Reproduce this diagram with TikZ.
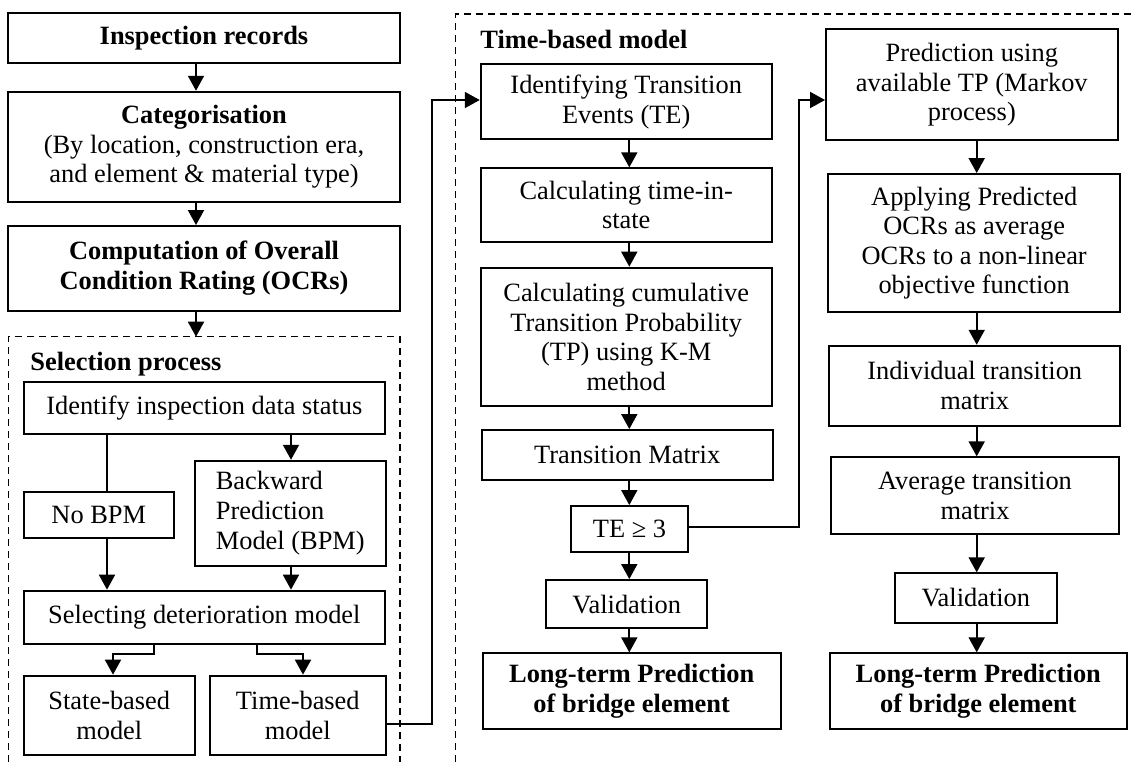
\documentclass[tikz,border=0pt]{standalone}
\usepackage{fontspec}
\setmainfont{Liberation Serif}
\usetikzlibrary{arrows.meta}
\tikzset{
  flowbox/.style={draw, line width=0.95pt, align=center, inner sep=0pt, font=\fontsize{13.2}{14.8}\selectfont},
  arr/.style={line width=0.95pt, -{Triangle[length=7.5pt,width=8pt]}},
  plain/.style={line width=0.95pt},
  dash box/.style={line width=0.65pt, dash pattern=on 3.5pt off 2.5pt},
  heading/.style={font=\fontsize{13.2}{14.8}\selectfont\bfseries, anchor=base west, inner sep=0pt}
}
\begin{document}
\begin{tikzpicture}[x=0.5pt, y=-0.5pt]
\useasboundingbox (0,0) rectangle (1135,762);
% dashed groups
\draw[dash box] (8.7,762) -- (8.7,336.7) -- (400,336.7) -- (400,762);
\draw[dash box] (455.7,762) -- (455.7,14) -- (1135,14);
\node[heading] (selhead) at (30,370.7) {Selection process};
\node[heading] (timehead) at (480,48.3) {Time-based model};
\coordinate (selTop) at (196,336.7);
% left column
\node[flowbox, minimum width=196pt, minimum height=25.2pt] (rec) at (204,37.9) {\textbf{Inspection records}};
\node[flowbox, minimum width=196pt, minimum height=55.2pt] (cat) at (204,146.9) {\textbf{Categorisation}\\(By location, construction era,\\and element \& material type)};
\node[flowbox, minimum width=196pt, minimum height=42.3pt] (ocr) at (204,268.3) {\textbf{Computation of Overall}\\\textbf{Condition Rating (OCRs)}};
\node[flowbox, minimum width=180.7pt, minimum height=26.3pt] (ids) at (204.3,408) {Identify inspection data status};
\node[flowbox, minimum width=75.2pt, minimum height=23.3pt] (nobpm) at (98.8,515) {No BPM};
\node[flowbox, minimum width=95.7pt, minimum height=52.5pt, align=left] (bpm) at (290.3,513.2) {Backward\\Prediction\\Model (BPM)};
\node[flowbox, minimum width=180.7pt, minimum height=26.7pt] (sel) at (204.3,617.3) {Selecting deterioration model};
\node[flowbox, minimum width=85.7pt, minimum height=39.7pt] (state) at (109.3,715.3) {State-based\\model};
\node[flowbox, minimum width=88.2pt, minimum height=39.7pt] (time) at (297.8,715.3) {Time-based\\model};
% middle column
\node[flowbox, minimum width=145.5pt, minimum height=37.5pt] (te) at (626.2,101.8) {Identifying Transition\\Events (TE)};
\node[flowbox, minimum width=145.5pt, minimum height=36.7pt] (tis) at (626.2,205) {Calculating time-in-\\state};
\node[flowbox, minimum width=145.5pt, minimum height=69.2pt] (cum) at (626.2,336.8) {Calculating cumulative\\Transition Probability\\(TP) using K-M\\method};
\node[flowbox, minimum width=145.5pt, minimum height=25pt] (tm) at (627.2,455) {Transition Matrix};
\node[flowbox, minimum width=58.8pt, minimum height=23.2pt] (te3) at (629.5,529.2) {TE ≥ 3};
\node[flowbox, minimum width=80.7pt, minimum height=24.2pt] (val1) at (626.7,604.2) {Validation};
\node[flowbox, minimum width=149pt, minimum height=38pt] (lt1) at (631.7,691.3) {\textbf{Long-term Prediction}\\\textbf{of bridge element}};
% right column
\node[flowbox, minimum width=145.8pt, minimum height=55.3pt] (pred) at (971.8,84.7) {Prediction using\\available TP (Markov\\process)};
\node[flowbox, minimum width=145.8pt, minimum height=69.2pt] (app) at (974.2,243.2) {Applying Predicted\\OCRs as average\\OCRs to a non-linear\\objective function};
\node[flowbox, minimum width=145.3pt, minimum height=40pt] (ind) at (974.7,385.7) {Individual transition\\matrix};
\node[flowbox, minimum width=144.3pt, minimum height=38.5pt] (avg) at (975,495.8) {Average transition\\matrix};
\node[flowbox, minimum width=80.8pt, minimum height=24.7pt] (val2) at (975.8,598) {Validation};
\node[flowbox, minimum width=148.3pt, minimum height=38pt] (lt2) at (978.3,691.3) {\textbf{Long-term Prediction}\\\textbf{of bridge element}};
% left connectors
\draw[arr] (rec.south -| 196,0) -- (cat.north -| 196,0);
\draw[arr] (cat.south -| 196,0) -- (ocr.north -| 196,0);
\draw[arr] (ocr.south -| 196,0) -- (selTop);
\draw[plain] (ids.south -| 107,0) -- (nobpm.north -| 107,0);
\draw[arr] (ids.south -| 291,0) -- (bpm.north -| 291,0);
\draw[arr] (nobpm.south -| 107,0) -- (sel.north -| 107,0);
\draw[arr] (bpm.south -| 291,0) -- (sel.north -| 291,0);
\draw[arr] (sel.south -| 154,0) -- (154,654.3) -| (state.north -| 113,0);
\draw[arr] (sel.south -| 256.7,0) -- (256.7,654.3) -| (time.north -| 303,0);
\draw[arr] (time.east |- 0,724) -- (432,724) |- (te.west |- 0,100);
% middle connectors
\draw[arr] (te.south -| 629.3,0) -- (tis.north -| 629.3,0);
\draw[arr] (tis.south -| 629.3,0) -- (cum.north -| 629.3,0);
\draw[arr] (cum.south -| 629.3,0) -- (tm.north -| 629.3,0);
\draw[arr] (tm.south -| 629.3,0) -- (te3.north -| 629.3,0);
\draw[arr] (te3.south -| 629.3,0) -- (val1.north -| 629.3,0);
\draw[arr] (val1.south -| 629.3,0) -- (lt1.north -| 629.3,0);
\draw[arr] (te3.east |- 0,526.7) -- (799,526.7) |- (pred.west |- 0,100);
% right connectors
\draw[arr] (pred.south -| 976.7,0) -- (app.north -| 976.7,0);
\draw[arr] (app.south -| 976.7,0) -- (ind.north -| 976.7,0);
\draw[arr] (ind.south -| 976.7,0) -- (avg.north -| 976.7,0);
\draw[arr] (avg.south -| 976.7,0) -- (val2.north -| 976.7,0);
\draw[arr] (val2.south -| 976.7,0) -- (lt2.north -| 976.7,0);
\end{tikzpicture}
\end{document}
